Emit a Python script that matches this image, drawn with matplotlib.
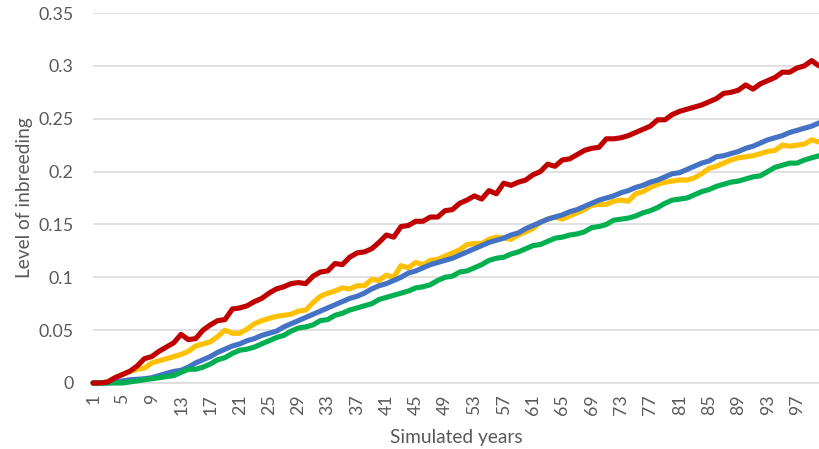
import matplotlib
matplotlib.use("Agg")
import matplotlib.pyplot as plt

plt.rcParams['font.family'] = ['Lato', 'DejaVu Sans']

years = list(range(1, 101))

# inbreeding level per simulated year, one list per scenario
red = [0, 0, 0.001, 0.005, 0.008, 0.011, 0.016, 0.023, 0.025, 0.030,
       0.034, 0.038, 0.046, 0.041, 0.042, 0.050, 0.055, 0.059, 0.060, 0.070,
       0.071, 0.073, 0.077, 0.080, 0.085, 0.089, 0.091, 0.094, 0.095, 0.094,
       0.101, 0.105, 0.106, 0.113, 0.112, 0.119, 0.123, 0.124, 0.127, 0.133,
       0.140, 0.138, 0.148, 0.149, 0.153, 0.153, 0.157, 0.157, 0.163, 0.164,
       0.170, 0.173, 0.177, 0.174, 0.182, 0.179, 0.189, 0.187, 0.190, 0.192,
       0.197, 0.200, 0.207, 0.205, 0.211, 0.212, 0.216, 0.220, 0.222, 0.223,
       0.231, 0.231, 0.232, 0.234, 0.237, 0.240, 0.243, 0.249, 0.249, 0.254,
       0.257, 0.259, 0.261, 0.263, 0.266, 0.269, 0.274, 0.275, 0.277, 0.282,
       0.278, 0.283, 0.286, 0.289, 0.294, 0.294, 0.298, 0.300, 0.305, 0.300]

yellow = [0, 0, 0.001, 0.005, 0.008, 0.011, 0.013, 0.014, 0.019, 0.021,
          0.023, 0.025, 0.027, 0.030, 0.035, 0.037, 0.039, 0.044, 0.050, 0.047,
          0.047, 0.051, 0.056, 0.059, 0.061, 0.063, 0.064, 0.065, 0.068, 0.069,
          0.076, 0.082, 0.085, 0.087, 0.090, 0.089, 0.092, 0.092, 0.098, 0.097,
          0.102, 0.100, 0.111, 0.109, 0.114, 0.112, 0.116, 0.117, 0.120, 0.123,
          0.126, 0.131, 0.132, 0.132, 0.136, 0.138, 0.137, 0.136, 0.140, 0.143,
          0.146, 0.152, 0.155, 0.157, 0.155, 0.158, 0.161, 0.164, 0.168, 0.169,
          0.169, 0.172, 0.173, 0.172, 0.179, 0.181, 0.185, 0.188, 0.190, 0.191,
          0.192, 0.192, 0.194, 0.198, 0.203, 0.205, 0.208, 0.211, 0.213, 0.214,
          0.215, 0.217, 0.219, 0.220, 0.225, 0.224, 0.225, 0.226, 0.230, 0.228]

blue = [0, 0, 0, 0.001, 0.002, 0.003, 0.0035, 0.004, 0.005, 0.007,
        0.009, 0.011, 0.012, 0.015, 0.019, 0.022, 0.025, 0.029, 0.032, 0.035,
        0.037, 0.040, 0.042, 0.045, 0.047, 0.049, 0.053, 0.056, 0.059, 0.062,
        0.065, 0.068, 0.071, 0.074, 0.077, 0.080, 0.082, 0.085, 0.089, 0.092,
        0.094, 0.097, 0.100, 0.104, 0.106, 0.109, 0.112, 0.114, 0.116, 0.118,
        0.121, 0.124, 0.127, 0.130, 0.133, 0.135, 0.137, 0.140, 0.142, 0.146,
        0.149, 0.152, 0.155, 0.157, 0.159, 0.162, 0.164, 0.167, 0.170, 0.173,
        0.175, 0.177, 0.180, 0.182, 0.185, 0.187, 0.190, 0.192, 0.195, 0.198,
        0.199, 0.202, 0.205, 0.208, 0.210, 0.214, 0.215, 0.217, 0.219, 0.222,
        0.224, 0.227, 0.230, 0.232, 0.234, 0.237, 0.239, 0.241, 0.243, 0.246]

green = [0, 0, 0, 0, 0, 0.001, 0.002, 0.003, 0.004, 0.005,
         0.006, 0.007, 0.010, 0.013, 0.013, 0.015, 0.018, 0.022, 0.024, 0.028,
         0.031, 0.032, 0.034, 0.037, 0.040, 0.043, 0.045, 0.049, 0.052, 0.053,
         0.055, 0.059, 0.060, 0.064, 0.066, 0.069, 0.071, 0.073, 0.075, 0.079,
         0.081, 0.083, 0.085, 0.087, 0.090, 0.091, 0.093, 0.097, 0.100, 0.101,
         0.105, 0.106, 0.109, 0.112, 0.116, 0.118, 0.119, 0.122, 0.124, 0.127,
         0.130, 0.131, 0.134, 0.137, 0.138, 0.140, 0.141, 0.143, 0.147, 0.148,
         0.150, 0.154, 0.155, 0.156, 0.158, 0.161, 0.163, 0.166, 0.170, 0.173,
         0.174, 0.175, 0.178, 0.181, 0.183, 0.186, 0.188, 0.190, 0.191, 0.193,
         0.195, 0.196, 0.200, 0.204, 0.206, 0.208, 0.208, 0.211, 0.213, 0.215]

yticks = [0, 0.05, 0.1, 0.15, 0.2, 0.25, 0.3, 0.35]
ytick_labels = ['0', '0.05', '0.1', '0.15', '0.2', '0.25', '0.3', '0.35']
xticks = list(range(1, 101, 4))

text_col = '#595959'
grid_col = '#d9d9d9'

fig = plt.figure(figsize=(8.19, 4.49), dpi=100)
ax = fig.add_axes([0.1136, 0.147, 0.8864, 0.824])

# drawing order matters where the lines overlap
for vals, col in [(yellow, '#FFC000'), (blue, '#4472C4'),
                  (green, '#00B050'), (red, '#C00000')]:
    ax.plot(years, vals, color=col, lw=3.7, solid_joinstyle='round',
            solid_capstyle='round', zorder=3, clip_on=False)

ax.set_xlim(1, 100)
ax.set_ylim(0, 0.35)
ax.set_yticks(yticks)
ax.set_yticklabels(ytick_labels)
ax.set_xticks(xticks)
ax.set_xticklabels([str(x) for x in xticks], rotation=90)

ax.grid(axis='y', color=grid_col, lw=1.1)
ax.set_axisbelow(True)
for s in ['top', 'right', 'left']:
    ax.spines[s].set_visible(False)
ax.spines['bottom'].set_color(grid_col)
ax.spines['bottom'].set_linewidth(1.1)

ax.tick_params(axis='y', length=0, pad=14, labelsize=12.8, labelcolor=text_col)
ax.tick_params(axis='x', length=0, pad=8, labelsize=12.8, labelcolor=text_col)

ax.set_xlabel('Simulated years', fontsize=13.8, color=text_col, labelpad=10)
ax.set_ylabel('Level of inbreeding', fontsize=13.8, color=text_col, labelpad=4)

fig.savefig('out.png', dpi=100)
